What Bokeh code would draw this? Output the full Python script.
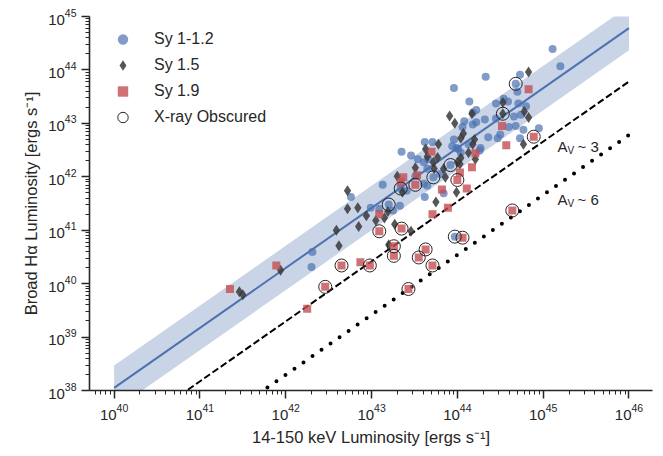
import numpy as np
from bokeh.plotting import figure
from bokeh.models import FixedTicker, Legend, LegendItem, Range1d
from bokeh.embed import file_html
from bokeh.resources import INLINE
from bokeh.core.properties import value

# ---- data: log10 luminosities (x = 14-150 keV, y = broad H-alpha) ----
sy1_lx = [45.11, 45.20, 44.33, 44.73, 43.96, 44.70, 44.14, 44.45, 44.54, 44.59,
          44.71, 44.80, 44.18, 44.08, 44.22, 44.32, 44.45, 44.60, 44.68, 44.66,
          44.74, 44.77, 44.95, 44.73, 44.50, 44.36, 44.47, 44.27, 44.06, 43.96,
          43.94, 44.13, 44.01, 44.04, 44.26, 43.35, 43.46, 43.62, 43.71, 43.66,
          43.54, 43.61, 43.80, 43.61, 43.41, 43.13, 42.76, 42.99, 43.09, 43.33,
          43.62, 43.84, 42.31, 42.30, 44.22, 44.18, 43.99, 43.51, 43.25, 43.65,
          43.65, 44.68, 43.92, 43.72, 43.34, 43.20, 43.97]
sy1_ly = [44.39, 44.07, 43.87, 43.91, 43.66, 43.59, 43.41, 43.37, 43.46, 43.41,
          43.37, 43.32, 43.20, 43.04, 43.02, 43.07, 43.09, 42.93, 42.95, 43.13,
          43.16, 42.88, 42.91, 42.72, 42.79, 42.74, 42.72, 42.54, 42.93, 42.70,
          42.57, 42.61, 42.52, 42.45, 42.49, 42.47, 42.40, 42.65, 42.65, 42.33,
          42.33, 42.27, 42.05, 41.87, 41.74, 41.85, 41.62, 41.42, 41.40, 41.46,
          41.62, 41.69, 40.59, 40.31, 43.25, 42.98, 42.54, 42.01, 41.37, 41.83,
          42.15, 43.74, 42.22, 41.99, 41.78, 41.48, 40.88]

sy15_lx = [44.83, 44.53, 44.78, 44.83, 43.91, 43.97, 44.77, 44.20, 44.07, 44.04,
           44.18, 44.21, 44.00, 44.04, 43.78, 43.63, 43.65, 43.72, 43.77, 43.51,
           43.73, 43.84, 43.86, 43.30, 42.72, 42.72, 42.84, 43.99, 43.75, 44.17,
           44.13, 44.03, 42.59, 42.62, 42.85, 42.94, 43.05, 43.15, 43.19, 43.27,
           43.46, 43.20, 43.36, 41.46, 41.50, 41.94, 44.53]
sy15_ly = [43.96, 43.39, 43.22, 43.11, 43.14, 43.00, 42.61, 42.70, 42.81, 42.72,
           42.61, 42.33, 42.27, 42.35, 42.61, 42.52, 42.38, 42.27, 42.36, 42.17,
           42.15, 42.15, 41.99, 42.01, 41.74, 41.40, 41.42, 41.71, 41.53, 43.18,
           42.45, 42.24, 41.00, 40.71, 41.07, 41.27, 41.18, 41.23, 41.35, 41.11,
           40.98, 40.73, 41.71, 39.85, 39.79, 40.25, 43.18]

sy19_lx = [44.83, 44.52, 44.57, 44.21, 44.17, 44.03, 44.11, 43.82, 43.71, 43.89,
           43.70, 43.37, 43.53, 43.34, 43.09, 41.35, 41.89, 42.25, 42.87, 44.89,
           44.00, 43.51, 43.35, 43.09, 44.06, 43.63, 43.26, 43.55, 43.26, 42.65,
           42.98, 43.71, 42.46, 43.43, 44.64]
sy19_ly = [43.64, 42.95, 42.59, 42.44, 42.18, 42.08, 41.78, 41.76, 41.30, 41.42,
           42.47, 41.99, 42.03, 41.90, 41.30, 39.90, 40.34, 39.53, 40.40, 42.75,
           41.94, 41.85, 41.03, 40.98, 40.86, 40.64, 40.70, 40.49, 40.52, 40.34,
           40.34, 40.34, 39.94, 39.90, 41.37]

obs_lx = [44.68, 43.92, 43.72, 43.34, 43.20, 43.97, 44.53, 44.89, 44.00, 43.51,
          43.35, 43.09, 44.06, 43.63, 43.26, 43.55, 43.26, 42.65, 42.98, 43.71,
          42.46, 43.43, 44.64]
obs_ly = [43.74, 42.22, 41.99, 41.78, 41.48, 40.88, 43.18, 42.75, 41.94, 41.85,
          41.03, 40.98, 40.86, 40.64, 40.70, 40.49, 40.52, 40.34, 40.34, 40.34,
          39.94, 39.90, 41.37]

# best-fit relation (log L_Ha at log L_X = 40, slope), band half-width, extinction offsets
fit_lx = [40.0, 46.0]
fit_intercept = 38.05
fit_slope = 1.122
band_half = 0.416
av3_offset = -1.0
av6_offset = -2.0

# tick values
x_ticks_exp = [40, 41, 42, 43, 44, 45, 46]
y_ticks_exp = [38, 39, 40, 41, 42, 43, 44, 45]

# ---- figure ----
BLUE = "#4C72B0"
RED = "#C44E52"
DARK = "#262626"
FONT = "Liberation Sans"

p = figure(width=655, height=448, x_axis_type="log", y_axis_type="log",
           x_range=Range1d(10 ** 39.713, 10 ** 46.274),
           y_range=Range1d(10.0 ** 38, 10.0 ** 45),
           output_backend="svg", toolbar_location=None,
           min_border_left=89, min_border_right=3,
           min_border_top=16, min_border_bottom=55)
p.outline_line_color = None
p.grid.visible = False

fx = [10.0 ** v for v in fit_lx]
fy = [fit_intercept + fit_slope * (v - 40.0) for v in fit_lx]

p.varea(x=fx, y1=[10 ** (v - band_half) for v in fy],
        y2=[10 ** (v + band_half) for v in fy],
        fill_color=BLUE, fill_alpha=0.3)
p.line(fx, [10 ** v for v in fy], line_color=BLUE, line_width=2)
p.line(fx, [10 ** (v + av3_offset) for v in fy], line_color="black",
       line_width=2, line_dash="7 3")
p.line(fx, [10 ** (v + av6_offset) for v in fy], line_color="black",
       line_width=4, line_dash="0 11", line_cap="round")

r1 = p.scatter([10 ** v for v in sy1_lx], [10 ** v for v in sy1_ly], marker="circle",
               size=8, fill_color=BLUE, fill_alpha=0.7, line_color=None)
r2 = p.scatter([10 ** v for v in sy15_lx], [10 ** v for v in sy15_ly], marker="diamond",
               size=11, fill_color="#383838", fill_alpha=0.85, line_color=None)
r3 = p.scatter([10 ** v for v in sy19_lx], [10 ** v for v in sy19_ly], marker="square",
               size=8, fill_color=RED, fill_alpha=0.8, line_color=None)
r4 = p.scatter([10 ** v for v in obs_lx], [10 ** v for v in obs_ly], marker="circle",
               size=13, fill_color=None, line_color=DARK, line_width=1)

# extinction labels
for ly, txt in ((42.57, "~ 3"), (41.57, "~ 6")):
    tx = 10 ** 45.168
    ty = 10 ** ly
    p.text([tx], [ty], text=["A"], text_font=value(FONT), text_font_size="15px",
           text_baseline="middle", text_align="left", text_color=DARK)
    p.text([tx], [ty], text=["V"], text_font=value(FONT), text_font_size="10px",
           text_baseline="middle", text_align="left", text_color=DARK,
           x_offset=10, y_offset=4)
    p.text([tx], [ty], text=[txt], text_font=value(FONT), text_font_size="15px",
           text_baseline="middle", text_align="left", text_color=DARK,
           x_offset=20)

# axes
p.xaxis.ticker = FixedTicker(ticks=[10.0 ** k for k in x_ticks_exp],
                             minor_ticks=[m * 10.0 ** k for k in range(39, 46) for m in range(2, 10)])
p.yaxis.ticker = FixedTicker(ticks=[10.0 ** k for k in y_ticks_exp],
                             minor_ticks=[m * 10.0 ** k for k in range(38, 45) for m in range(2, 10)])
p.xaxis.axis_label = "14-150 keV Luminosity [ergs s\u207b\u00b9]"
p.yaxis.axis_label = "Broad H\u03b1 Luminosity [ergs s\u207b\u00b9]"
for ax in (p.xaxis[0], p.yaxis[0]):
    ax.axis_line_color = DARK
    ax.axis_line_width = 1.6
    ax.major_tick_line_color = DARK
    ax.major_tick_line_width = 1.5
    ax.minor_tick_line_color = DARK
    ax.minor_tick_line_width = 1
    ax.major_tick_in = 0
    ax.major_tick_out = 8
    ax.minor_tick_in = 0
    ax.minor_tick_out = 4
    ax.major_label_text_font = FONT
    ax.major_label_text_font_size = "15px"
    ax.major_label_text_color = DARK
    ax.axis_label_text_font = FONT
    ax.axis_label_text_font_size = "16.5px"
    ax.axis_label_text_font_style = "normal"
    ax.axis_label_text_color = DARK

legend = Legend(items=[LegendItem(label="Sy 1-1.2", renderers=[r1]),
                       LegendItem(label="Sy 1.5", renderers=[r2]),
                       LegendItem(label="Sy 1.9", renderers=[r3]),
                       LegendItem(label="X-ray Obscured", renderers=[r4])],
                location="top_left", margin=10, padding=0,
                glyph_width=47, glyph_height=26, label_height=26,
                label_standoff=8, spacing=0,
                label_text_font=FONT, label_text_font_size="16px",
                label_text_color=DARK,
                border_line_color=None, background_fill_alpha=0)
p.add_layout(legend)

open("out.html", "w").write(file_html(p, INLINE))
